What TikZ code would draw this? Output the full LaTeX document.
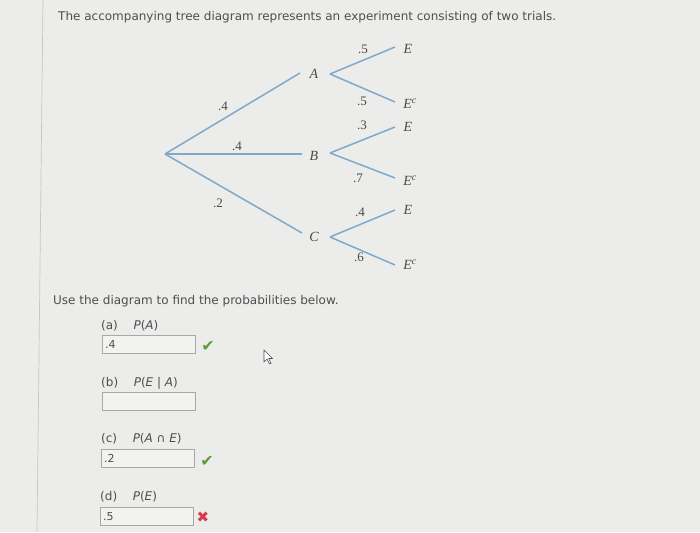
\documentclass[tikz,border=0pt]{standalone}
\usepackage{fontspec}
\setmainfont{DejaVu Sans}
\newfontfamily\serf{Liberation Serif}
\definecolor{bg}{HTML}{ECECEB}
\definecolor{branch}{HTML}{7FA9CB}
\definecolor{treetext}{HTML}{4A4A4A}
\definecolor{bodytext}{HTML}{4E4E4E}
\definecolor{boxline}{HTML}{A8A8A8}
\definecolor{boxfill}{HTML}{F2F2F1}
\definecolor{okgreen}{HTML}{5C9E3C}
\definecolor{badred}{HTML}{D93A4E}
\begin{document}
\begin{tikzpicture}[x=1pt,y=-1pt,
  br/.style={draw=branch,line width=1.5pt},
  lab/.style={font=\serf\itshape\fontsize{14}{14}\selectfont,text=treetext,inner sep=0pt},
  num/.style={font=\serf\fontsize{13}{13}\selectfont,text=treetext,inner sep=0pt},
  txt/.style={font=\fontsize{12}{14}\selectfont,text=bodytext,inner sep=0pt,anchor=west},
  ansbox/.style={draw=boxline,fill=boxfill,line width=0.8pt,minimum width=93pt,minimum height=18pt,anchor=north west,inner sep=0pt},
  anstxt/.style={font=\fontsize{11}{11}\selectfont,text=bodytext,inner sep=0pt,anchor=west},
  okmark/.style={font=\fontsize{16}{16}\selectfont,text=okgreen,inner sep=0pt},
  badmark/.style={font=\fontsize{15}{15}\selectfont,text=badred,inner sep=0pt}
]
\useasboundingbox (0,0) rectangle (700,532);
\fill[bg] (0,0) rectangle (700,532);
\draw[draw=black!22,line width=0.7pt] (43,0) -- (37,532);

% title
\node[txt] (title) at (58,17) {The accompanying tree diagram represents an experiment consisting of two trials.};

% tree
\coordinate (root) at (165,154);
\coordinate (rA) at (300,73);
\coordinate (rB) at (302,154);
\coordinate (rC) at (302,233);
\node[lab] (A) at (314,74) {A};
\node[lab] (B) at (314,156) {B};
\node[lab] (C) at (314,237) {C};
\draw[br] (root) -- (rA);
\draw[br] (root) -- (rB);
\draw[br] (root) -- (rC);
\node[num] (pA) at (223,106) {.4};
\node[num] (pB) at (237,146) {.4};
\node[num] (pC) at (218,203) {.2};

\coordinate (fA) at (330,74);
\coordinate (fB) at (330,153);
\coordinate (fC) at (330,237);
\coordinate (eA1) at (395,47);
\coordinate (eA2) at (395,102);
\coordinate (eB1) at (395,127);
\coordinate (eB2) at (395,178);
\coordinate (eC1) at (395,210);
\coordinate (eC2) at (395,265);
\draw[br] (fA) -- (eA1);
\draw[br] (fA) -- (eA2);
\draw[br] (fB) -- (eB1);
\draw[br] (fB) -- (eB2);
\draw[br] (fC) -- (eC1);
\draw[br] (fC) -- (eC2);
\node[lab] (AE) at (408,49) {E};
\node[lab] (AEc) at (410,104) {E\textsuperscript{c}};
\node[lab] (BE) at (408,127) {E};
\node[lab] (BEc) at (410,181) {E\textsuperscript{c}};
\node[lab] (CE) at (408,210) {E};
\node[lab] (CEc) at (410,265) {E\textsuperscript{c}};
\node[num] (qA1) at (363,49) {.5};
\node[num] (qA2) at (362,101) {.5};
\node[num] (qB1) at (362,125) {.3};
\node[num] (qB2) at (358,178) {.7};
\node[num] (qC1) at (360,212) {.4};
\node[num] (qC2) at (359,257) {.6};

% questions
\node[txt] (use) at (53,301) {Use the diagram to find the probabilities below.};

\node[txt] (qa) at (101,326) {(a)\hspace{1.3em}\textit{P}(\textit{A})};
\node[ansbox] (boxa) at (102,335) {};
\node[anstxt] (ansa) at ([xshift=3pt]boxa.west) {.4};
\node[okmark] (oka) at (208,346) {✔};

\node[txt] (qb) at (101,383) {(b)\hspace{1.3em}\textit{P}(\textit{E} | \textit{A})};
\node[ansbox] (boxb) at (102,392) {};

\node[txt] (qc) at (101,439) {(c)\hspace{1.3em}\textit{P}(\textit{A} ∩ \textit{E})};
\node[ansbox] (boxc) at (101,449) {};
\node[anstxt] (ansc) at ([xshift=3pt]boxc.west) {.2};
\node[okmark] (okc) at (207,461) {✔};

\node[txt] (qd) at (100,497) {(d)\hspace{1.3em}\textit{P}(\textit{E})};
\node[ansbox] (boxd) at (100,507) {};
\node[anstxt] (ansd) at ([xshift=3pt]boxd.west) {.5};
\node[badmark] (bad) at (203,517) {✖};

% mouse cursor
\draw[draw=black!70,fill=white,line width=0.6pt,line join=round]
  (264,350) -- (264,362) -- (267,359) -- (269.5,364) -- (271,363.3) -- (268.6,358.5) -- (272.5,358.5) -- cycle;
\end{tikzpicture}
\end{document}
